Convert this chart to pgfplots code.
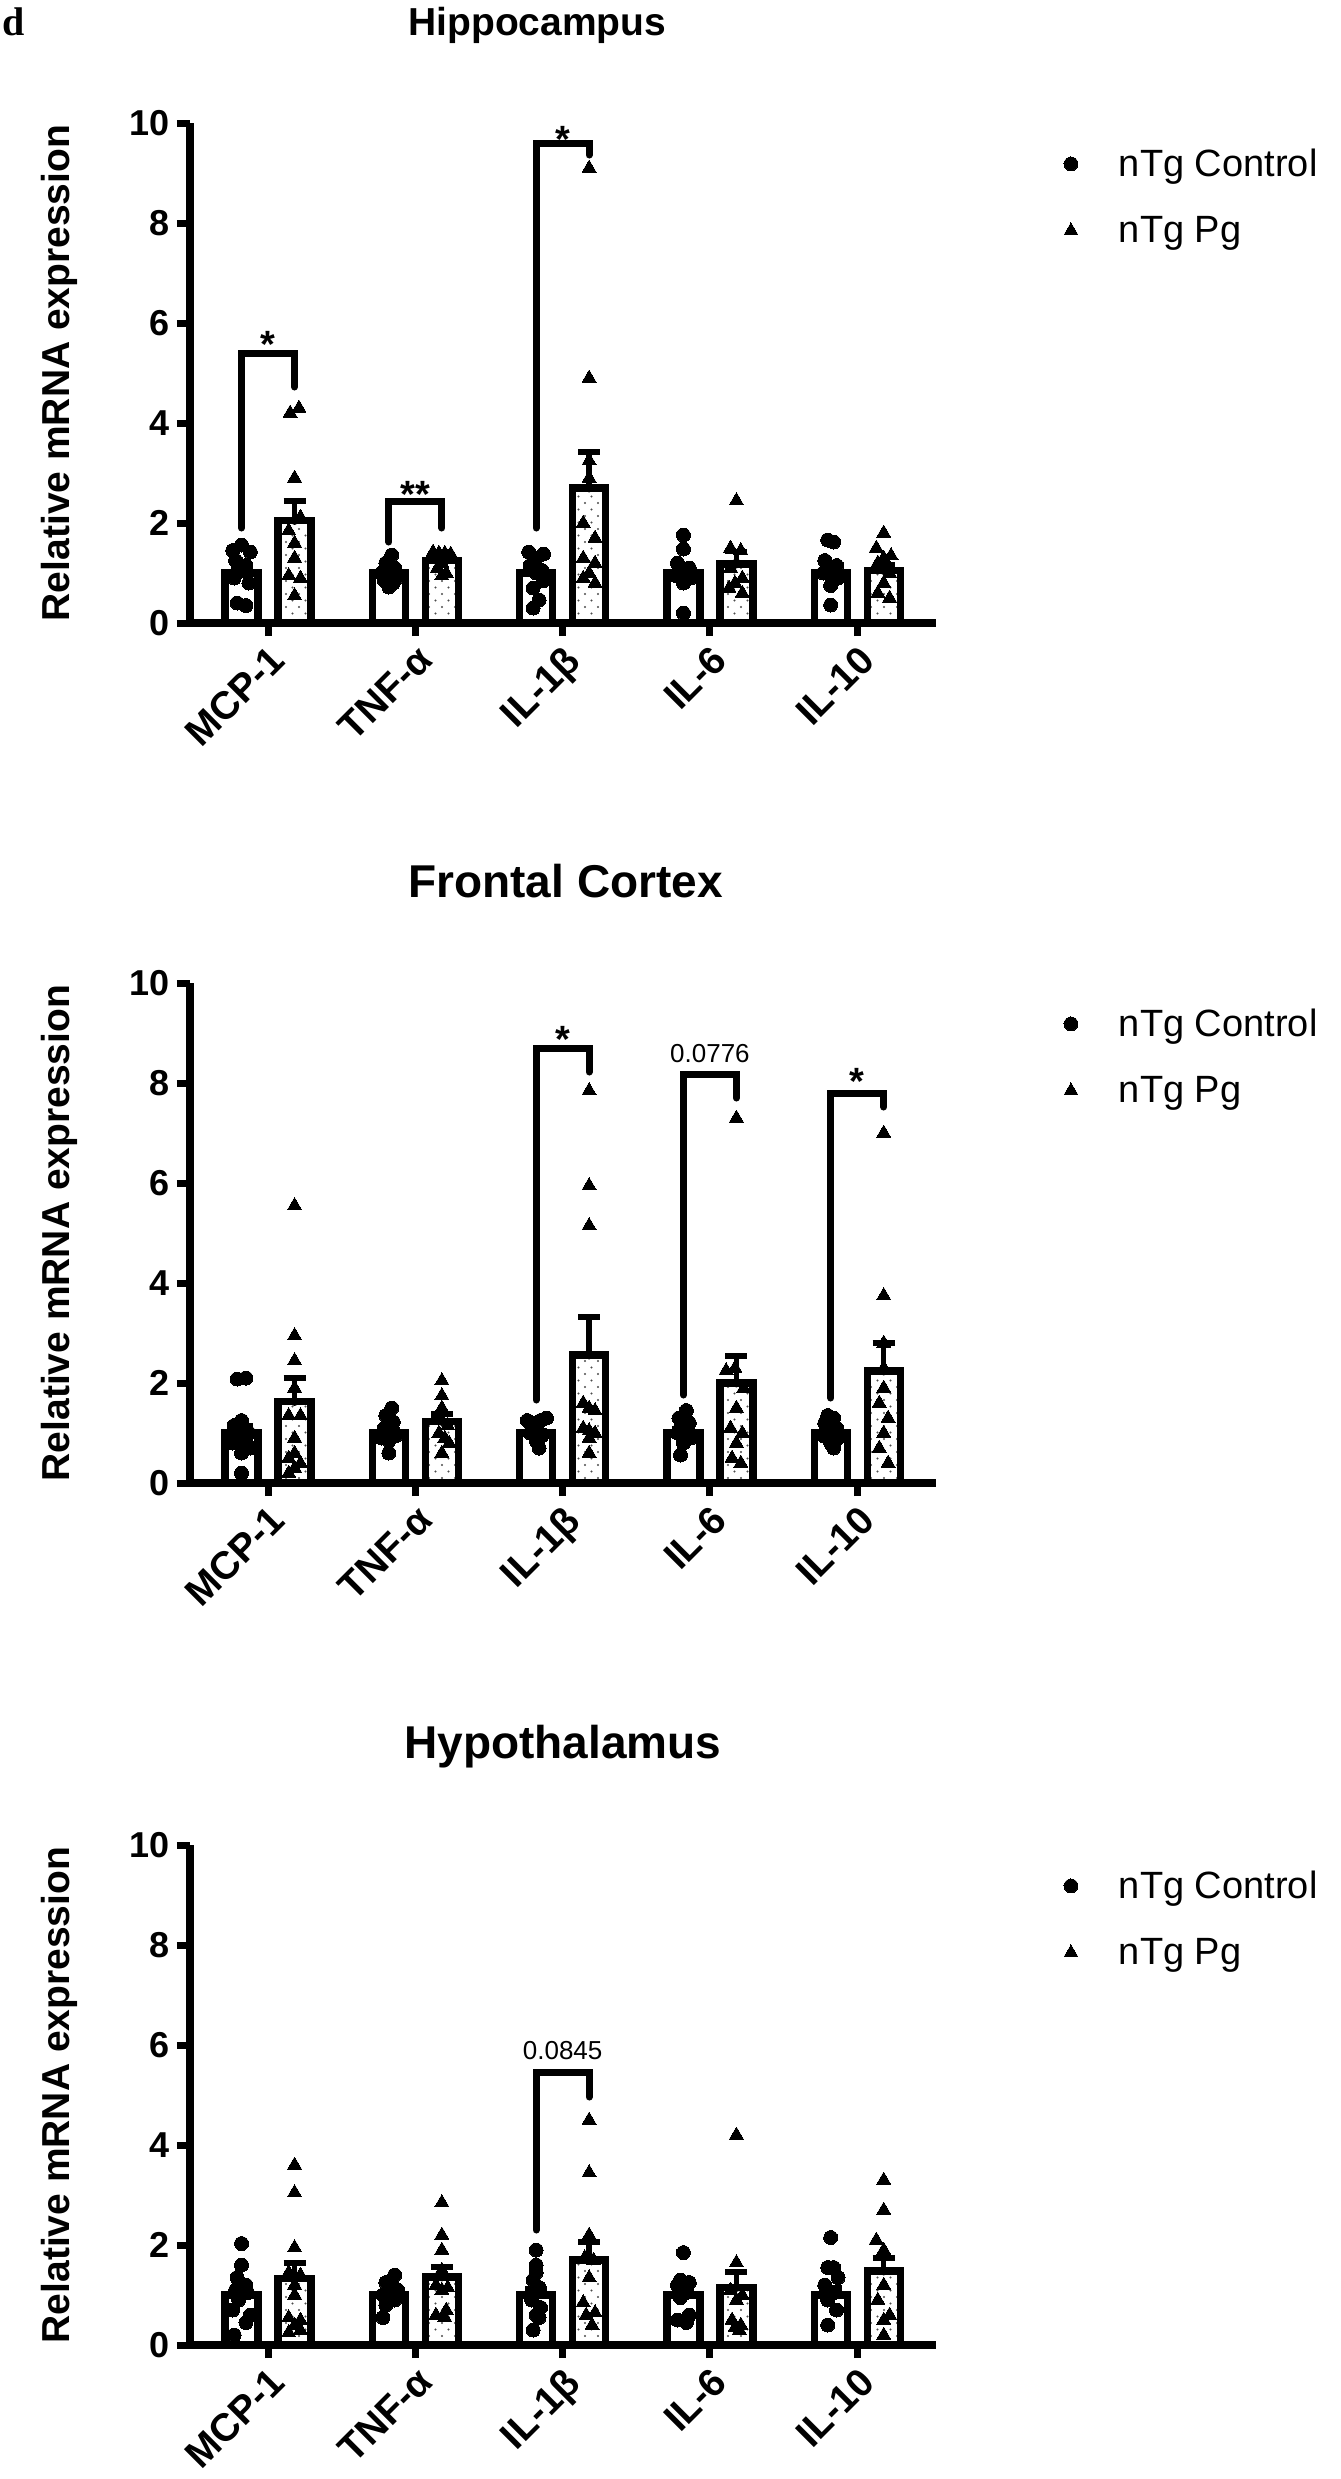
\documentclass[border=0pt]{standalone}
\usepackage{pgfplots}
\pgfplotsset{compat=1.18}
\usepackage{fontspec}
\setmainfont{Liberation Sans}
\newfontfamily\seriffont{Liberation Serif}
\usetikzlibrary{patterns}
\pgfdeclarepatternformonly{sparsedots}{\pgfqpoint{-1pt}{-1pt}}{\pgfqpoint{7.5pt}{7.5pt}}{\pgfqpoint{6.5pt}{6.5pt}}{%
  \pgfpathcircle{\pgfqpoint{0pt}{0pt}}{0.6pt}%
  \pgfpathcircle{\pgfqpoint{3.25pt}{3.25pt}}{0.6pt}%
  \pgfusepath{fill}}
\pgfplotsset{
  panel/.style={
    scale only axis, width=373pt, height=250pt, anchor=south west,
    xmin=-0.53, xmax=4.535, ymin=0, ymax=10,
    axis lines*=left,
    axis line style={line width=3.75pt, black},
    xtick={0,1,2,3,4}, ytick={0,2,4,6,8,10},
    xticklabels={MCP-1,TNF-α,IL-1β,IL-6,IL-10},
    tick align=outside, major tick length=6.5pt,
    tick style={line width=3.5pt, black},
    /pgf/number format/assume math mode=true,
    yticklabel style={font=\fontsize{18pt}{20pt}\selectfont\bfseries},
    xticklabel style={rotate=45, anchor=north east, inner sep=2.5pt, font=\fontsize{19.5pt}{21pt}\selectfont\bfseries},
    ylabel={Relative mRNA expression},
    ylabel style={font=\fontsize{19.5pt}{22pt}\selectfont\bfseries, at={(axis description cs:-0.175,0.5)}, anchor=center},
    clip=false,
    legend style={draw=none, fill=none, at={(axis description cs:1.163,0.852)}, anchor=west,
      font=\fontsize{19pt}{21pt}\selectfont, row sep=14.5pt},
    legend cell align=left,
    legend image code/.code={\draw[##1] plot coordinates {(0pt,0pt)}; \path[draw=none,fill=none] (0pt,-1pt) rectangle (22pt,1pt);},
  },
  ctrlbar/.style={ybar, bar width=0.224, bar shift=-0.18, draw=black, fill=white, line width=3.6pt, forget plot},
  pgbar/.style={ybar, bar width=0.224, bar shift=0.18, draw=black, fill=white,
    postaction={pattern=sparsedots, pattern color=black!70}, line width=3.6pt, forget plot},
  sem/.style={only marks, mark=none, black, forget plot,
    error bars/.cd, y dir=plus, y explicit,
    error bar style={draw=black, line width=2.7pt},
    error mark options={rotate=90, mark size=5.5pt, line width=2.7pt, draw=black}},
  ctrlpts/.style={only marks, mark=*, mark size=3.5pt, black, mark options={line width=0pt}},
  pgpts/.style={only marks, mark=triangle*, mark size=4pt, black, mark options={line width=0pt}},
  bracket/.style={line width=3.5pt, black, line cap=round, line join=miter, forget plot, mark=none},
}
\newcommand\starfont{\fontsize{19pt}{21pt}\selectfont\bfseries}
\newcommand\pfont{\fontsize{13pt}{15pt}\selectfont}
\begin{document}
\begin{tikzpicture}
\path[use as bounding box] (0,0) rectangle (670pt,-1239.5pt);
\clip (0,0) rectangle (670pt,-1239.5pt);
\node[anchor=base west, inner sep=0pt, font=\seriffont\bfseries\fontsize{20pt}{22pt}\selectfont] at (1pt,-17.5pt) {d};
\node[anchor=base west, inner sep=0pt, font=\bfseries\fontsize{19.5pt}{22pt}\selectfont] at (204pt,-17.5pt) {Hippocampus};
\node[anchor=base west, inner sep=0pt, font=\bfseries\fontsize{23pt}{26pt}\selectfont] at (204pt,-448.5pt) {Frontal Cortex};
\node[anchor=base west, inner sep=0pt, font=\bfseries\fontsize{23pt}{26pt}\selectfont] at (202pt,-879pt) {Hypothalamus};

% ---------------- Hippocampus ----------------
\begin{axis}[panel, at={(95pt,-311.5pt)}]
\addplot[ctrlbar] coordinates {(0,1.0) (1,1.0) (2,1.0) (3,1.0) (4,1.0)};
\addplot[pgbar] coordinates {(0,2.05) (1,1.25) (2,2.7) (3,1.18) (4,1.05)};
\addplot[sem] coordinates {(-0.18,1.0) +- (0,0.12) (0.82,1.0) +- (0,0.06) (1.82,1.0) +- (0,0.11) (2.82,1.0) +- (0,0.15) (3.82,1.0) +- (0,0.12)
  (0.18,2.05) +- (0,0.39) (1.18,1.25) +- (0,0.06) (2.18,2.7) +- (0,0.72) (3.18,1.18) +- (0,0.25) (4.18,1.05) +- (0,0.12)};
\addplot[ctrlpts] coordinates {
(-0.18,1.56) (-0.24,1.45) (-0.12,1.42) (-0.22,1.25) (-0.15,1.15) (-0.18,1.05) (-0.23,0.9) (-0.13,0.8) (-0.21,0.4) (-0.15,0.35)
(0.84,1.36) (0.80,1.2) (0.86,1.1) (0.77,1.0) (0.82,0.97) (0.88,0.92) (0.79,0.85) (0.85,0.8) (0.82,0.72)
(1.77,1.42) (1.87,1.38) (1.82,1.3) (1.78,1.15) (1.86,1.05) (1.82,1.0) (1.87,0.85) (1.80,0.7) (1.84,0.46) (1.80,0.3)
(2.82,1.76) (2.82,1.48) (2.78,1.2) (2.86,1.1) (2.82,1.0) (2.77,0.95) (2.87,0.9) (2.82,0.8) (2.82,0.2)
(3.80,1.66) (3.84,1.62) (3.78,1.25) (3.86,1.15) (3.82,1.05) (3.77,1.0) (3.87,0.9) (3.82,0.75) (3.82,0.36)};
\addplot[pgpts] coordinates {
(0.15,4.2) (0.21,4.3) (0.18,2.9) (0.22,2.12) (0.14,1.85) (0.18,1.6) (0.18,1.3) (0.14,0.95) (0.22,0.9) (0.18,0.55)
(1.12,1.42) (1.16,1.4) (1.20,1.4) (1.24,1.38) (1.14,1.32) (1.22,1.3) (1.18,1.2) (1.15,1.1) (1.21,1.0) (1.18,0.95)
(2.18,9.1) (2.18,4.9) (2.18,3.25) (2.18,2.9) (2.14,2.0) (2.22,1.7) (2.14,1.3) (2.22,1.2) (2.18,1.0) (2.14,0.9) (2.22,0.8)
(3.18,2.45) (3.14,1.5) (3.21,1.45) (3.18,1.2) (3.14,1.1) (3.22,0.9) (3.17,0.8) (3.13,0.7) (3.22,0.6)
(4.18,1.8) (4.13,1.5) (4.23,1.35) (4.18,1.3) (4.14,1.2) (4.22,1.0) (4.18,0.8) (4.14,0.6) (4.22,0.5)};
\legend{nTg Control, nTg Pg}
\addplot[bracket] coordinates {(-0.18,1.9) (-0.18,5.4) (0.18,5.4) (0.18,4.72)};
\addplot[bracket] coordinates {(0.82,1.62) (0.82,2.44) (1.18,2.44) (1.18,1.9)};
\addplot[bracket] coordinates {(1.82,1.9) (1.82,9.6) (2.18,9.6) (2.18,9.36)};
\node[anchor=base, font=\starfont, inner sep=0pt] at (axis cs:0,5.32) {*};
\node[anchor=base, font=\starfont, inner sep=0pt] at (axis cs:1,2.32) {**};
\node[anchor=base, font=\starfont, inner sep=0pt] at (axis cs:2,9.42) {*};
\end{axis}

% ---------------- Frontal Cortex ----------------
\begin{axis}[panel, at={(95pt,-741.5pt)}]
\addplot[ctrlbar] coordinates {(0,1.0) (1,1.0) (2,1.0) (3,1.0) (4,1.0)};
\addplot[pgbar] coordinates {(0,1.63) (1,1.23) (2,2.56) (3,2.0) (4,2.24)};
\addplot[sem] coordinates {(-0.18,1.0) +- (0,0.14) (0.82,1.0) +- (0,0.07) (1.82,1.0) +- (0,0.05) (2.82,1.0) +- (0,0.08) (3.82,1.0) +- (0,0.05)
  (0.18,1.63) +- (0,0.47) (1.18,1.23) +- (0,0.15) (2.18,2.56) +- (0,0.76) (3.18,2.0) +- (0,0.54) (4.18,2.24) +- (0,0.56)};
\addplot[ctrlpts] coordinates {
(-0.21,2.08) (-0.15,2.1) (-0.18,1.25) (-0.23,1.15) (-0.13,1.0) (-0.2,0.9) (-0.15,0.85) (-0.24,0.8) (-0.12,0.7) (-0.18,0.6) (-0.18,0.2)
(0.84,1.5) (0.80,1.35) (0.85,1.22) (0.79,1.1) (0.83,1.0) (0.87,0.95) (0.77,0.9) (0.82,0.85) (0.82,0.6)
(1.76,1.25) (1.80,1.2) (1.85,1.25) (1.89,1.3) (1.82,1.1) (1.78,1.0) (1.86,0.95) (1.82,0.85) (1.84,0.7)
(2.84,1.45) (2.79,1.3) (2.86,1.2) (2.80,1.1) (2.84,1.05) (2.78,1.0) (2.87,0.9) (2.82,0.8) (2.80,0.56)
(3.80,1.35) (3.84,1.3) (3.78,1.2) (3.86,1.1) (3.82,1.0) (3.77,0.95) (3.87,0.9) (3.82,0.8) (3.84,0.7)};
\addplot[pgpts] coordinates {
(0.18,5.55) (0.18,2.95) (0.18,2.45) (0.18,1.9) (0.14,1.35) (0.22,1.35) (0.18,0.9) (0.18,0.6) (0.14,0.5) (0.22,0.4) (0.18,0.3) (0.14,0.2)
(1.18,2.05) (1.18,1.75) (1.18,1.5) (1.14,1.3) (1.22,1.15) (1.16,1.0) (1.20,0.9) (1.23,0.8) (1.18,0.6)
(2.18,7.85) (2.18,5.95) (2.18,5.15) (2.14,1.6) (2.18,1.5) (2.22,1.45) (2.14,1.1) (2.18,1.05) (2.22,1.0) (2.18,0.9) (2.18,0.6)
(3.18,7.3) (3.11,2.25) (3.17,2.3) (3.23,1.9) (3.18,1.5) (3.14,1.1) (3.22,1.0) (3.18,0.8) (3.15,0.5) (3.21,0.4)
(4.18,7.0) (4.18,3.75) (4.18,2.8) (4.18,2.3) (4.18,1.9) (4.15,1.6) (4.21,1.3) (4.18,1.0) (4.15,0.7) (4.21,0.4)};
\legend{nTg Control, nTg Pg}
\addplot[bracket] coordinates {(1.82,1.66) (1.82,8.7) (2.18,8.7) (2.18,8.22)};
\addplot[bracket] coordinates {(2.82,1.76) (2.82,8.18) (3.18,8.18) (3.18,7.7)};
\addplot[bracket] coordinates {(3.82,1.7) (3.82,7.8) (4.18,7.8) (4.18,7.52)};
\node[anchor=base, font=\starfont, inner sep=0pt] at (axis cs:2,8.61) {*};
\node[anchor=base, font=\pfont, inner sep=0pt] at (axis cs:3,8.41) {0.0776};
\node[anchor=base, font=\starfont, inner sep=0pt] at (axis cs:4,7.78) {*};
\end{axis}

% ---------------- Hypothalamus ----------------
\begin{axis}[panel, at={(95pt,-1172.5pt)}]
\addplot[ctrlbar] coordinates {(0,1.0) (1,1.0) (2,1.0) (3,1.0) (4,1.0)};
\addplot[pgbar] coordinates {(0,1.33) (1,1.36) (2,1.7) (3,1.15) (4,1.48)};
\addplot[sem] coordinates {(-0.18,1.0) +- (0,0.15) (0.82,1.0) +- (0,0.06) (1.82,1.0) +- (0,0.12) (2.82,1.0) +- (0,0.12) (3.82,1.0) +- (0,0.14)
  (0.18,1.33) +- (0,0.31) (1.18,1.36) +- (0,0.2) (2.18,1.7) +- (0,0.36) (3.18,1.15) +- (0,0.31) (4.18,1.48) +- (0,0.26)};
\addplot[ctrlpts] coordinates {
(-0.18,2.03) (-0.18,1.6) (-0.21,1.35) (-0.15,1.2) (-0.22,1.1) (-0.14,1.05) (-0.2,0.9) (-0.24,0.7) (-0.12,0.6) (-0.15,0.45) (-0.23,0.2)
(0.86,1.4) (0.80,1.25) (0.84,1.2) (0.88,1.1) (0.78,1.0) (0.83,0.95) (0.86,0.9) (0.80,0.8) (0.78,0.55)
(1.82,1.9) (1.82,1.6) (1.82,1.45) (1.80,1.3) (1.84,1.15) (1.79,0.9) (1.85,0.75) (1.82,0.6) (1.84,0.55) (1.80,0.3)
(2.82,1.85) (2.80,1.3) (2.86,1.25) (2.78,1.2) (2.84,1.05) (2.80,0.95) (2.86,0.6) (2.78,0.5) (2.84,0.45)
(3.82,2.15) (3.80,1.55) (3.84,1.55) (3.87,1.35) (3.78,1.2) (3.84,1.05) (3.80,0.9) (3.86,0.7) (3.80,0.4)};
\addplot[pgpts] coordinates {
(0.18,3.6) (0.18,3.05) (0.18,1.95) (0.14,1.45) (0.22,1.4) (0.18,1.2) (0.18,1.0) (0.14,0.55) (0.22,0.5) (0.18,0.4) (0.22,0.3) (0.14,0.25)
(1.18,2.85) (1.18,2.2) (1.18,1.9) (1.18,1.5) (1.14,1.2) (1.22,1.15) (1.18,1.1) (1.21,0.7) (1.14,0.6) (1.20,0.55)
(2.18,4.5) (2.18,3.45) (2.18,2.2) (2.15,1.75) (2.21,1.7) (2.18,1.35) (2.14,0.85) (2.22,0.65) (2.16,0.6) (2.20,0.4)
(3.18,4.2) (3.18,1.65) (3.14,1.1) (3.22,1.0) (3.18,0.9) (3.15,0.5) (3.21,0.4) (3.17,0.35) (3.2,0.3)
(4.18,3.3) (4.18,2.7) (4.13,2.1) (4.18,1.9) (4.18,1.2) (4.14,0.9) (4.22,0.6) (4.18,0.5) (4.18,0.2)};
\legend{nTg Control, nTg Pg}
\addplot[bracket] coordinates {(1.82,2.3) (1.82,5.46) (2.18,5.46) (2.18,4.96)};
\node[anchor=base, font=\pfont, inner sep=0pt] at (axis cs:2,5.71) {0.0845};
\end{axis}
\end{tikzpicture}
\end{document}
